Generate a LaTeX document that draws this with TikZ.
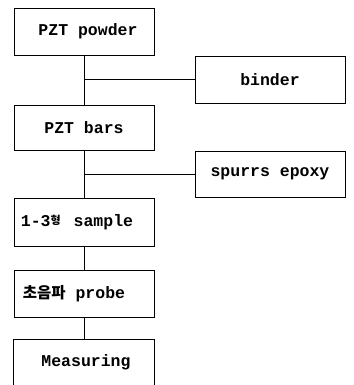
\documentclass[tikz,border=0pt]{standalone}
\usepackage{fontspec}
\setmonofont{Liberation Mono}
\newfontfamily\krfont{Noto Sans CJK KR}
\begin{document}
\begin{tikzpicture}[x=1pt,y=-1pt,
  txt/.style={inner sep=0pt,font=\ttfamily\bfseries\fontsize{16.5}{17}\selectfont},
  box/.style={txt,draw,line width=0.8pt,rectangle},
  mainbox/.style={box,minimum width=140pt},
  sidebox/.style={box,minimum width=150pt},
  conn/.style={line width=0.8pt}]
\useasboundingbox (0,0) rectangle (353,385);
\clip (0,0) rectangle (353,385);
\node[mainbox,minimum height=47pt] (powder) at (84,31.5) {\hspace*{8pt}PZT powder};
\node[sidebox,minimum height=47pt] (binder) at (270,79.5) {binder};
\node[mainbox,minimum height=45pt] (bars) at (84,127.5) {PZT bars};
\node[sidebox,minimum height=46pt] (epoxy) at (270,174) {spurrs epoxy};
\node[mainbox,minimum height=48pt] (sample) at (84,222) {\hspace*{-14pt}1-3{\krfont\fontsize{11}{11}\selectfont\raisebox{2pt}{형}}\hspace*{3pt} sample};
\node[mainbox,minimum height=47pt] (probe) at (84,293.5) {\hspace*{-20pt}{\krfont\fontsize{15.5}{16}\selectfont 초음파} probe};
\node[txt,minimum width=140pt,minimum height=44pt] (meas) at (84,362) {\hspace*{4pt}Measuring};
\draw[line width=0.8pt] (meas.south west) ++(0,10) |- (meas.north east) -- ++(0,54);
\draw[conn] (powder) -- (bars);
\draw[conn] (bars) -- (sample);
\draw[conn] (sample) -- (probe);
\draw[conn] (probe) -- (meas);
\draw[conn] (powder.south |- binder.west) -- (binder.west);
\draw[conn] (bars.south |- epoxy.west) -- (epoxy.west);
\end{tikzpicture}
\end{document}
